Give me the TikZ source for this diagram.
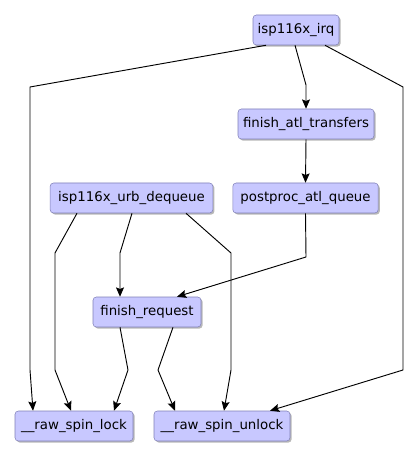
\documentclass[tikz,border=0pt]{standalone}
\usepackage{fontspec}
\setmainfont{DejaVu Sans}
\usetikzlibrary{arrows.meta,shadows,positioning}
\definecolor{NodeFill}{RGB}{200,200,255}
\definecolor{NodeLine}{RGB}{128,128,184}

\begin{document}
\begin{tikzpicture}[x=0.75pt, y=-0.75pt,
		fn/.style={draw=NodeLine, fill=NodeFill, rounded corners=2.5pt, minimum height=22.5pt,
			inner sep=0pt, font=\fontsize{10}{12}\selectfont,
			drop shadow={shadow xshift=1.2pt, shadow yshift=-1.2pt, fill=black!35, opacity=0.8}},
		edge/.style={-{Stealth[length=7pt, width=6pt, inset=1.2pt]}, line width=0.7pt}]
		\useasboundingbox (0,0) rectangle (419,459);
		
		\node[fn, minimum width=64.5pt] (irq) at (296,30) {isp116x\_irq};
		\node[fn, minimum width=102pt] (fat) at (306,124) {finish\_atl\_transfers};
		\node[fn, minimum width=122pt] (urb) at (131.5,198) {isp116x\_urb\_dequeue};
		\node[fn, minimum width=109pt] (post) at (305.5,198) {postproc\_atl\_queue};
		\node[fn, minimum width=81pt] (freq) at (147,312) {finish\_request};
		\node[fn, minimum width=88.5pt] (lock) at (74,426) {\_\_raw\_spin\_lock};
		\node[fn, minimum width=102pt] (unlock) at (222,426) {\_\_raw\_spin\_unlock};
		
		% calls from isp116x_irq
		\draw[edge] ([shift={(-30,0)}]irq.south) -- (30,87) -- (30,370) -- ([shift={(-41,0)}]lock.north);
		\draw[edge] ([shift={(-1,0)}]irq.south) -- (306,85) -- (fat.north);
		\draw[edge] ([shift={(29,0)}]irq.south) -- (403,87) -- (403,370) -- ([shift={(48,0)}]unlock.north);
		
		\draw[edge] (fat.south) -- (post.north);
		\draw[edge] (post.south) -- (306,257) -- ([shift={(30,0)}]freq.north);
		
		% calls from isp116x_urb_dequeue
		\draw[edge] ([shift={(-54.5,0)}]urb.south) -- (55,253) -- (55,370) -- ([shift={(-3,0)}]lock.north);
		\draw[edge] ([shift={(0.5,0)}]urb.south) -- (120,253) -- ([shift={(-27,0)}]freq.north);
		\draw[edge] ([shift={(54.5,0)}]urb.south) -- (231,253) -- (231,370) -- ([shift={(2,0)}]unlock.north);
		
		% calls from finish_request
		\draw[edge] ([shift={(-27,0)}]freq.south) -- (128,370) -- ([shift={(40,0)}]lock.north);
		\draw[edge] ([shift={(26,0)}]freq.south) -- (158,370) -- ([shift={(-47,0)}]unlock.north);
	\end{tikzpicture}
\end{document}
